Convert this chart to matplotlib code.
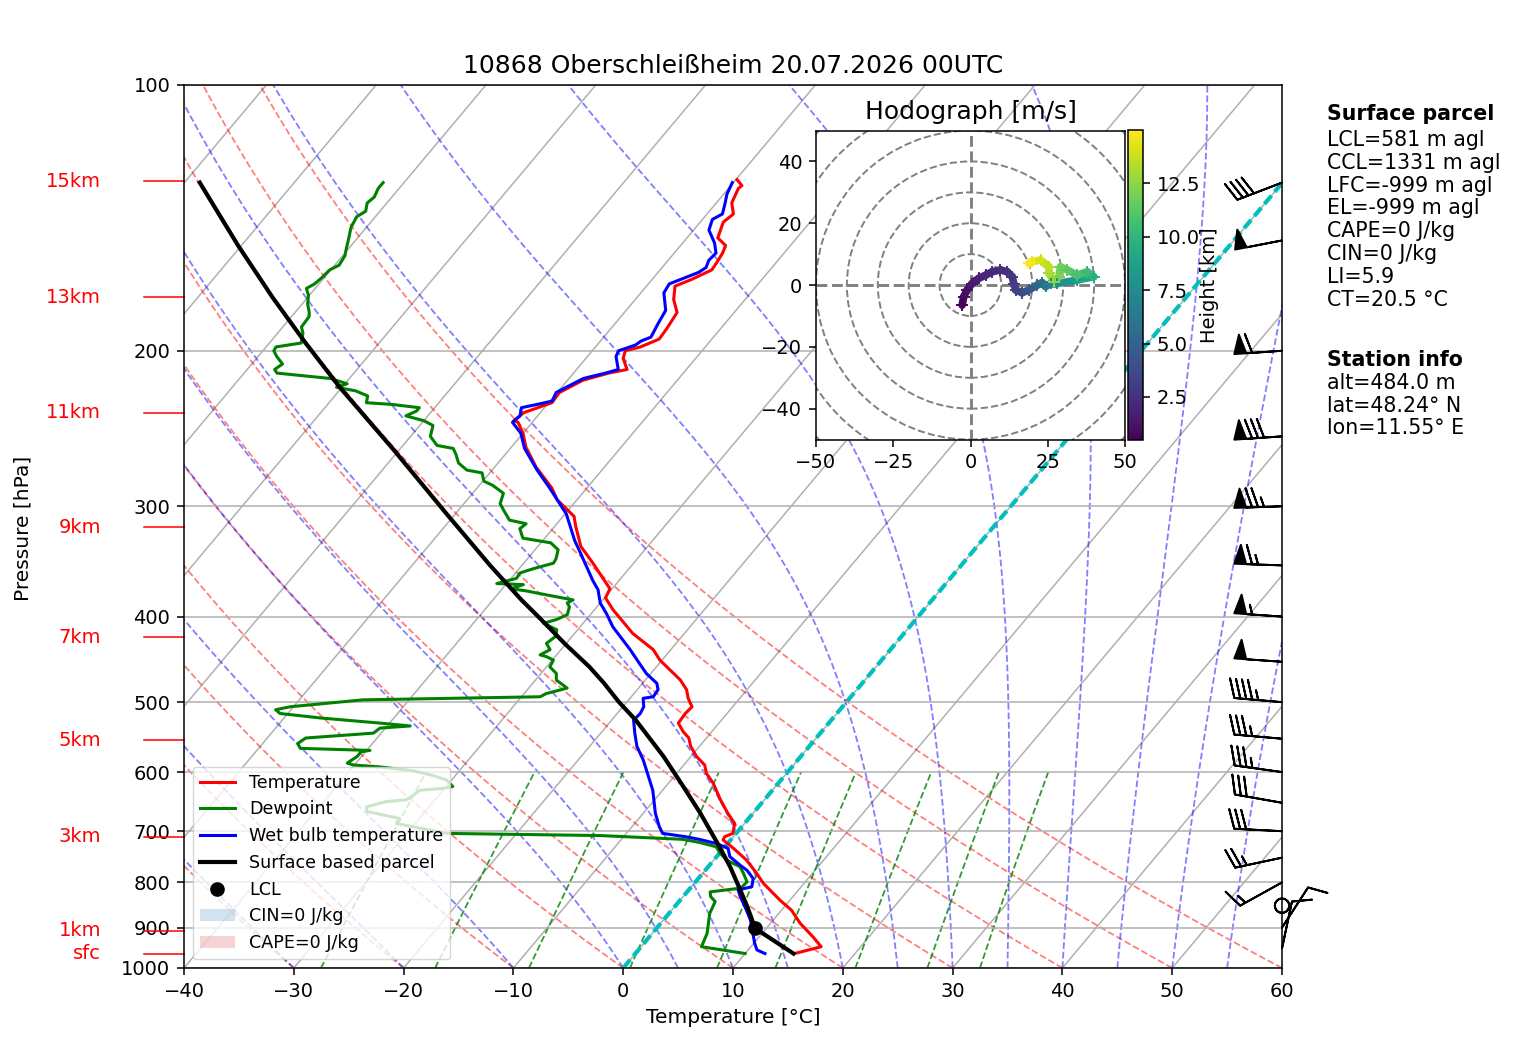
import numpy as np
import matplotlib
matplotlib.use('Agg')
import matplotlib.pyplot as plt
import matplotlib.transforms as mtransforms
from matplotlib.collections import LineCollection
from matplotlib.colors import Normalize
from matplotlib.patches import Circle, Patch
from matplotlib.ticker import NullLocator

plt.rcParams['font.family'] = ['DejaVu Sans']

# ---- sounding (p in hPa, values in degC) ----
station = '10868 Oberschleißheim'
date_str = '20.07.2026 00UTC'

temp_p = [963, 946, 922, 890, 860, 838, 802, 781, 755, 732, 716, 710, 704, 686, 668, 645,
          618, 602, 589, 576, 561, 549, 540, 528, 515, 506, 495, 484, 472, 448, 436, 418,
          393, 381, 372, 348, 333, 316, 308, 295, 286, 271, 257, 248, 241, 240, 235, 229,
          223, 216, 212, 210, 204, 200, 198, 194, 189, 181, 175, 169, 166, 162, 159, 155,
          152, 149, 143, 140, 136, 131, 130, 128]
temp_t = [14.5, 16.4, 14.9, 12.7, 10.9, 9.1, 6.3, 4.9, 3.0, 0.9, -0.7, -0.8, -0.3, -0.9, -2.3, -4.0,
          -5.9, -7.3, -8.1, -9.5, -10.8, -11.6, -12.6, -13.7, -13.8, -13.7, -14.7, -15.5, -16.8, -20.2, -21.6, -24.7,
          -28.3, -29.9, -30.2, -33.7, -36.1, -38.1, -39.0, -41.8, -43.2, -46.2, -48.7, -50.0, -51.3, -51.8, -51.5, -49.7,
          -49.8, -48.6, -46.8, -45.4, -46.6, -47.0, -45.9, -44.8, -44.9, -45.2, -46.5, -47.4, -46.4, -45.3, -45.4, -45.6,
          -45.9, -47.2, -47.9, -47.6, -48.6, -49.1, -49.0, -49.9]

dewp_p = [963, 946, 914, 867, 841, 830, 820, 812, 799, 781, 768, 755, 742, 729, 721, 715,
          708, 704, 686, 677, 665, 657, 648, 645, 637, 629, 626, 623, 613, 605, 598, 592,
          589, 586, 576, 569, 567, 564, 557, 549, 542, 535, 532, 528, 521, 515, 510, 506,
          497, 493, 489, 482, 472, 464, 456, 448, 444, 442, 436, 429, 421, 414, 407, 403,
          398, 390, 386, 383, 378, 374, 372, 368, 367, 362, 357, 353, 348, 344, 336, 330,
          326, 318, 314, 311, 303, 298, 290, 284, 281, 275, 273, 268, 262, 258, 256, 250,
          243, 240, 237, 234, 232, 230, 229, 225, 222, 221, 220, 218, 215, 212, 210, 207,
          203, 200, 198, 196, 191, 188, 183, 181, 177, 173, 170, 168, 165, 162, 160, 156,
          154, 149, 145, 141, 139, 136, 134, 131, 129]
dewp_t = [10.0, 5.5, 5.0, 3.7, 3.3, 2.5, 2.1, 4.6, 4.7, 3.7, 2.9, 1.2, 0.1, -0.8, -2.6, -4.4,
          -12.2, -26.4, -31.7, -31.8, -35.3, -35.7, -34.3, -32.6, -32.3, -32.1, -30.1, -29.4, -30.4, -32.1, -34.2, -37.5,
          -40.1, -40.8, -40.4, -40.4, -39.7, -46.2, -46.8, -46.5, -40.7, -40.5, -37.9, -40.9, -46.7, -50.7, -51.4, -50.3,
          -44.2, -28.3, -28.0, -26.5, -28.1, -28.6, -29.7, -29.9, -30.8, -31.5, -31.0, -31.8, -31.5, -31.9, -33.6, -32.7,
          -32.1, -32.5, -33.0, -32.7, -35.5, -37.7, -39.2, -38.4, -40.9, -39.5, -39.6, -38.7, -37.3, -37.4, -37.9, -39.1,
          -42.0, -43.0, -42.8, -44.6, -45.9, -46.7, -47.2, -48.8, -49.9, -50.7, -52.3, -53.6, -54.5, -55.2, -56.9, -58.2,
          -58.8, -60.0, -62.0, -61.4, -61.4, -64.2, -66.6, -67.0, -68.5, -69.5, -70.5, -69.8, -71.7, -77.0, -77.5, -77.2,
          -78.3, -79.0, -79.1, -77.1, -77.7, -78.3, -78.4, -78.7, -79.5, -80.1, -80.8, -80.4, -80.2, -80.1, -79.6, -79.8,
          -80.1, -80.8, -81.4, -81.7, -81.3, -81.8, -81.6, -81.9, -81.9]

wetb_p = [963, 954, 938, 882, 860, 830, 816, 809, 792, 775, 765, 748, 732, 723, 715, 710,
          704, 692, 668, 629, 581, 561, 542, 524, 515, 506, 495, 493, 484, 476, 464, 452,
          436, 411, 397, 386, 373, 364, 336, 328, 316, 306, 286, 273, 258, 248, 241, 237,
          232, 230, 228, 223, 215, 212, 210, 203, 200, 197, 195, 193, 186, 180, 172, 168,
          163, 161, 158, 155, 151, 146, 142, 140, 136, 133, 129]
wetb_t = [11.8, 10.8, 10.1, 7.9, 6.8, 5.2, 4.5, 5.5, 5.0, 3.8, 2.8, 1.2, 0.4, -1.0, -2.9, -4.4,
          -6.7, -7.5, -8.9, -10.9, -14.1, -15.7, -16.9, -18.0, -17.9, -18.1, -18.8, -18.0, -18.1, -18.7, -20.4, -21.8,
          -23.7, -27.0, -28.6, -30.0, -31.2, -32.4, -36.0, -37.1, -38.6, -39.9, -43.4, -45.9, -48.7, -50.2, -51.8, -51.6,
          -52.1, -50.9, -49.8, -50.1, -48.7, -47.1, -46.2, -47.4, -47.6, -46.5, -46.3, -45.7, -46.1, -46.4, -47.9, -48.1,
          -46.3, -46.0, -46.3, -46.2, -47.1, -48.6, -49.1, -48.6, -49.2, -49.7, -50.1]

parcel_p = [963, 902, 852, 816, 768, 729, 668, 623, 576, 524, 500, 476, 456, 430, 400, 383, 350,
            306, 259, 220, 196, 174, 152, 129]
parcel_t = [14.4, 9.0, 6.6, 4.7, 2.0, -0.5, -4.8, -8.4, -12.5, -17.8, -20.7, -23.5, -26.1, -30.0,
            -34.6, -37.4, -42.9, -50.8, -60.5, -70.2, -76.7, -83.2, -90.3, -98.6]

lcl_p = 902
lcl_t = 9.0

# wind barbs (direction deg, speed kt)
barb_p = [950, 900, 850, 800, 750, 700, 650, 600, 550, 500, 450, 400, 350, 300, 250, 200, 150, 129]
barb_dir = [12, 33, 0, 241, 258, 273, 280, 278, 275, 275, 274, 274, 272, 268, 266, 266, 259, 249]
barb_spd = [10, 10, 0, 15, 25, 30, 30, 35, 35, 45, 50, 55, 65, 75, 80, 60, 50, 40]

# hodograph (m/s) and height (km)
hodo_u = [-2.7, -2.2, -1.1, 0.5, 2.7, 4.9, 7.0, 9.7, 11.9, 13.5, 14.0, 14.6, 16.7, 18.9, 21.6, 23.2,
          24.3, 25.9, 28.0, 34.5, 39.9, 37.8, 34.5, 31.3, 29.1, 28.6, 27.0, 25.4, 25.4, 22.7, 20.0, 18.9]
hodo_v = [-6.5, -3.8, -1.6, 0.5, 2.2, 3.2, 4.3, 4.9, 4.3, 2.7, 0.5, -1.6, -2.5, -1.6, 0.0, 0.8,
          -0.5, 0.5, 0.5, 1.6, 2.7, 4.3, 3.2, 4.9, 5.9, 2.7, 1.1, 3.8, 5.9, 8.1, 7.6, 7.0]
hodo_h = [0.48, 0.8, 1.1, 1.5, 1.8, 2.0, 2.2, 2.4, 2.6, 2.8, 3.0, 3.3, 3.7, 4.3, 5.0, 5.6,
          6.2, 6.8, 7.5, 8.5, 9.6, 10.3, 10.8, 11.3, 11.7, 12.1, 12.5, 13.0, 13.5, 14.0, 14.5, 15.0]

# height marks on the left
hgt_labels = ['15km', '13km', '11km', '9km', '7km', '5km', '3km', '1km', 'sfc']
hgt_pres = [128.5, 174, 235, 317, 422, 552, 710, 908, 964]

parcel_info = ['LCL=581 m agl', 'CCL=1331 m agl', 'LFC=-999 m agl', 'EL=-999 m agl',
               'CAPE=0 J/kg', 'CIN=0 J/kg', 'LI=5.9', 'CT=20.5 °C']
station_info = ['alt=484.0 m', 'lat=48.24° N', 'lon=11.55° E']
cape_val = 0
cin_val = 0

# ---- thermodynamics for the background lines ----
SKEW = 67.5
RD = 287.04749
CP = 1004.6662
LV = 2.50084e6
EPS = 0.62195


def skew(t, p):
    return np.asarray(t, float) + SKEW * np.log10(1000.0 / np.asarray(p, float))


def sat_vap(tk):
    return 6.112 * np.exp(17.67 * (tk - 273.15) / (tk - 29.65))


def moist_dtdp(p, tk):
    es = sat_vap(tk)
    rs = EPS * es / (p - es)
    return (RD * tk + LV * rs) / (CP + LV * LV * rs * EPS / (RD * tk * tk)) / p


def moist_lapse(t0, pres):
    tk = np.asarray(t0, float) + 273.15
    out = [tk.copy()]
    for i in range(1, len(pres)):
        p0, p1 = pres[i - 1], pres[i]
        h = p1 - p0
        k1 = moist_dtdp(p0, tk)
        k2 = moist_dtdp(p0 + h / 2, tk + h / 2 * k1)
        k3 = moist_dtdp(p0 + h / 2, tk + h / 2 * k2)
        k4 = moist_dtdp(p1, tk + h * k3)
        tk = tk + h / 6 * (k1 + 2 * k2 + 2 * k3 + k4)
        out.append(tk.copy())
    return np.array(out).T - 273.15


fig = plt.figure(figsize=(15.17, 10.54), dpi=100)
ax = fig.add_axes([0.1213, 0.0816, 0.7238, 0.8378])
ax.set_yscale('log')
ax.set_ylim(1000, 100)
ax.set_xlim(-40, 60)

pres = np.linspace(1000, 100, 120)

# isotherms (skewed grid)
for t in range(-160, 61, 10):
    ax.plot(skew(np.full_like(pres, t), pres), pres, color='#b0b0b0', lw=1.1, zorder=1)

# dry adiabats
for t0 in range(-40, 61, 10):
    tt = (t0 + 273.15) * (pres / 1000.0) ** (RD / CP) - 273.15
    ax.plot(skew(tt, pres), pres, color='r', ls='--', lw=1.3, alpha=0.5, zorder=1)

# moist adiabats
moist_t0 = list(range(-40, 0, 10)) + list(range(0, 61, 5))
for tt in moist_lapse(moist_t0, pres):
    ax.plot(skew(tt, pres), pres, color='b', ls='--', lw=1.3, alpha=0.5, zorder=1)

# mixing ratio lines
mix_w = [0.0004, 0.001, 0.002, 0.004, 0.007, 0.01, 0.016, 0.024, 0.032]
pm = np.linspace(1000, 600, 30)
for w in mix_w:
    e = pm * w / (EPS + w)
    lg = np.log(e / 6.112)
    td = 243.5 * lg / (17.67 - lg)
    ax.plot(skew(td, pm), pm, color='g', ls='--', lw=1.3, alpha=0.8, zorder=1)

# 0 degC isotherm
ax.plot(skew(np.zeros_like(pres), pres), pres, color='c', ls=(0, (2.6, 1.2)), lw=3.0, zorder=2)

# profiles
l_t, = ax.plot(skew(temp_t, temp_p), temp_p, color='r', lw=2.2, label='Temperature', zorder=4)
l_d, = ax.plot(skew(dewp_t, dewp_p), dewp_p, color='g', lw=2.2, label='Dewpoint', zorder=4)
l_w, = ax.plot(skew(wetb_t, wetb_p), wetb_p, color='b', lw=2.2, label='Wet bulb temperature', zorder=4)
l_p, = ax.plot(skew(parcel_t, parcel_p), parcel_p, color='k', lw=3, label='Surface based parcel', zorder=5)
l_l, = ax.plot(skew([lcl_t], [lcl_p]), [lcl_p], 'ko', ms=9.5, ls='none', label='LCL', zorder=6)

ax.set_yticks(range(100, 1001, 100))
ax.set_yticklabels([str(v) for v in range(100, 1001, 100)])
ax.yaxis.set_minor_locator(NullLocator())
ax.set_xticks(range(-40, 61, 10))
ax.yaxis.grid(True, color='#b0b0b0', lw=1.1)
ax.tick_params(labelsize=14, length=4.9, width=1.1, pad=4.9)
for s in ax.spines.values():
    s.set_linewidth(1.1)
ax.set_xlabel('Temperature [°C]', fontsize=14.5, labelpad=5.6)
ax.set_title(f'{station} {date_str}', fontsize=18, pad=8.4)
fig.text(23 / 1517, 1 - 528 / 1054, 'Pressure [hPa]', rotation=90, ha='center', va='center',
         fontsize=14.5)

# height marks
trans = mtransforms.blended_transform_factory(ax.transAxes, ax.transData)
for lab, pp in zip(hgt_labels, hgt_pres):
    ax.plot([-0.0364, 0], [pp, pp], color='r', lw=1.1, transform=trans, clip_on=False)
    ax.text(-0.0756, pp, lab, color='r', ha='right', va='center', fontsize=14, transform=trans)

# wind barbs at the right edge
wd = np.deg2rad(barb_dir)
bu = -np.array(barb_spd) * np.sin(wd)
bv = -np.array(barb_spd) * np.cos(wd)
ax.barbs(np.ones(len(barb_p)), barb_p, bu, bv, transform=trans, clip_on=False,
         length=8.3, linewidth=1.4, zorder=7)

# legend
handles = [l_t, l_d, l_w, l_p, l_l,
           Patch(facecolor='tab:blue', alpha=0.2, label=f'CIN={cin_val} J/kg'),
           Patch(facecolor='tab:red', alpha=0.2, label=f'CAPE={cape_val} J/kg')]
leg = ax.legend(handles=handles, loc='lower left', fontsize=12.6)
leg.set_zorder(10)

# hodograph
axh = fig.add_axes([0.5379, 0.5825, 0.2037, 0.2941])
axh.set_xlim(-50, 50)
axh.set_ylim(-50, 50)
axh.set_aspect('equal')
for r in range(10, 100, 10):
    axh.add_patch(Circle((0, 0), r, fill=False, color='grey', ls='--', lw=1.4))
axh.axhline(0, color='grey', ls='--', lw=2.1)
axh.axvline(0, color='grey', ls='--', lw=2.1)
norm = Normalize(vmin=min(hodo_h), vmax=max(hodo_h))
pts = np.column_stack([hodo_u, hodo_v]).reshape(-1, 1, 2)
segs = np.concatenate([pts[:-1], pts[1:]], axis=1)
hh = np.array(hodo_h)
lc = LineCollection(segs, cmap='viridis', norm=norm, lw=5.5, capstyle='round')
lc.set_array(0.5 * (hh[:-1] + hh[1:]))
axh.add_collection(lc)
axh.scatter(hodo_u, hodo_v, c=hodo_h, cmap='viridis', norm=norm, marker='+', s=70, lw=1.4, zorder=3)
axh.set_xticks([-50, -25, 0, 25, 50])
axh.set_yticks([-40, -20, 0, 20, 40])
axh.tick_params(labelsize=14, length=4.9, width=1.1, pad=4.9)
for s in axh.spines.values():
    s.set_linewidth(1.1)
axh.set_title('Hodograph [m/s]', fontsize=18, pad=8.4)

cax = fig.add_axes([0.7436, 0.5825, 0.0099, 0.2941])
cb = fig.colorbar(lc, cax=cax)
cb.set_ticks([2.5, 5.0, 7.5, 10.0, 12.5])
cb.set_ticklabels(['2.5', '5.0', '7.5', '10.0', '12.5'])
cb.ax.tick_params(labelsize=14, length=4.9, width=1.1, pad=4.9)
cb.outline.set_linewidth(1.1)
cb.set_label('Height [km]', fontsize=14)
cb.ax.yaxis.set_label_coords(4.8, 0.5)

# text on the right
x_txt = 1327 / 1517
fig.text(x_txt, 1 - 114 / 1054, 'Surface parcel', fontsize=14.8, fontweight='bold', va='center')
for i, line in enumerate(parcel_info):
    fig.text(x_txt, 1 - (140 + 22.8 * i) / 1054, line, fontsize=14.8, va='center')
fig.text(x_txt, 1 - 360 / 1054, 'Station info', fontsize=14.8, fontweight='bold', va='center')
for i, line in enumerate(station_info):
    fig.text(x_txt, 1 - (383 + 22.6 * i) / 1054, line, fontsize=14.8, va='center')

fig.savefig('out.png', dpi=100)
